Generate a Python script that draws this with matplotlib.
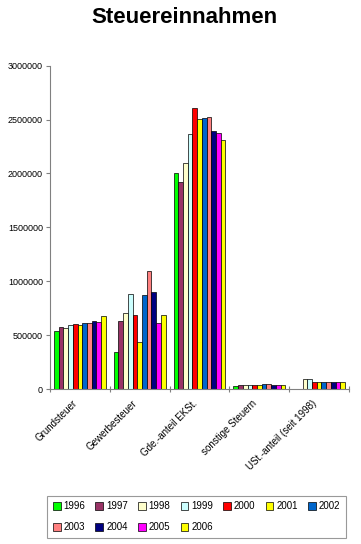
import numpy as np
import matplotlib
matplotlib.use("Agg")
import matplotlib.pyplot as plt
import matplotlib.transforms as mtransforms

plt.rcParams['font.family'] = ['Liberation Sans', 'DejaVu Sans']

# data
categories = ["Grundsteuer", "Gewerbesteuer", "Gde.-anteil EKSt.",
              "sonstige Steuern", "USt.-anteil (seit 1998)"]
years = ["1996", "1997", "1998", "1999", "2000", "2001",
         "2002", "2003", "2004", "2005", "2006"]

grundsteuer = [537000, 580000, 565000, 590000, 599000, 595000,
               617000, 611000, 630000, 623000, 673000]
gewerbesteuer = [343000, 630000, 704000, 880000, 688000, 432000,
                 873000, 1099000, 901000, 608000, 688000]
gde_anteil = [2001000, 1921000, 2100000, 2363000, 2604000, 2502000,
              2511000, 2521000, 2391000, 2372000, 2313000]
sonstige = [28000, 34000, 34000, 34000, 34000, 34000,
            43000, 43000, 34000, 34000, 34000]
ust_anteil = [0, 0, 90000, 93000, 68000, 68000,
              68000, 68000, 68000, 68000, 68000]

colors = ["#00FF00", "#993366", "#FFFFCC", "#CCFFFF", "#FF0000", "#FFFF00",
          "#0066CC", "#FF8080", "#000080", "#FF00FF", "#FFFF00"]

values = np.array([grundsteuer, gewerbesteuer, gde_anteil, sonstige, ust_anteil])

fig = plt.figure(figsize=(3.61, 5.44), dpi=100)
ax = fig.add_axes([0.1385, 0.2849, 0.8283, 0.5943])

n = len(years)
bw = 0.0788
x = np.arange(len(categories))
handles = []
for i, yr in enumerate(years):
    pos = x - n * bw / 2 + (i + 0.5) * bw
    vals = values[:, i]
    mask = vals > 0
    h = ax.bar(pos[mask], vals[mask], width=bw, color=colors[i],
               edgecolor="black", linewidth=0.5, label=yr)
    handles.append(h)

ax.set_xlim(-0.5, len(categories) - 0.5)
ax.set_ylim(0, 3000000)
ax.set_yticks(np.arange(0, 3000001, 500000))
ax.set_yticklabels([str(v) for v in range(0, 3000001, 500000)], fontsize=6.5)

ax.set_xticks(np.arange(-0.5, len(categories), 1.0))
ax.set_xticklabels([])
ax.set_xticks(x, minor=True)
ax.set_xticklabels(categories, minor=True, rotation=45, ha="right",
                   va="center", rotation_mode="anchor", fontsize=7)
ax.tick_params(axis="x", which="minor", length=0, pad=9)
ax.tick_params(axis="x", which="major", length=4, direction="inout", color="#808080")
ax.tick_params(axis="y", length=3, color="#808080", pad=2)
shift = mtransforms.ScaledTranslation(-4 / 100, 0, fig.dpi_scale_trans)
for lbl in ax.get_xticklabels(minor=True):
    lbl.set_transform(lbl.get_transform() + shift)

for s in ["top", "right"]:
    ax.spines[s].set_visible(False)
ax.spines["left"].set_color("#808080")
ax.spines["bottom"].set_color("#808080")

fig.text(0.512, 0.968, "Steuereinnahmen", ha="center", va="center",
         fontsize=16, fontweight="bold")

# row-major legend order for 7 columns x 2 rows
order = [0, 7, 1, 8, 2, 9, 3, 10, 4, 5, 6]
leg = fig.legend([handles[k] for k in order], [years[k] for k in order],
                 loc="lower left", bbox_to_anchor=(0.130, 0.011, 0.828, 0.079),
                 ncol=7, mode="expand", fontsize=7, frameon=True, fancybox=False,
                 handlelength=0.8, handleheight=0.8, handletextpad=0.3,
                 columnspacing=0.6, borderaxespad=0, labelspacing=1.1,
                 borderpad=0.6)
leg.get_frame().set_edgecolor("#808080")
leg.get_frame().set_linewidth(0.8)

fig.savefig("out.png", dpi=100)
